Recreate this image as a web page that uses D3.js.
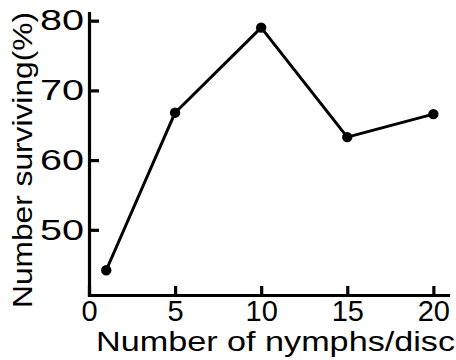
<!DOCTYPE html>
<html>
<head>
<meta charset="utf-8">
<script src="https://cdn.jsdelivr.net/npm/d3@7"></script>
<style>
  html, body { margin: 0; padding: 0; background: #fff; }
  svg { display: block; }
  text { font-family: "Liberation Sans", Arial, sans-serif; fill: #000; }
</style>
</head>
<body>
<svg id="chart" width="456" height="360"></svg>
<script>
// Survival of nymphs against rearing density
const nymphsPerDisc = [1, 5, 10, 15, 20];
const survivingPct = [44.2, 66.8, 79, 63.3, 66.6];
const xTicks = [0, 5, 10, 15, 20];
const yTicks = [50, 60, 70, 80];
const xTitle = "Number of nymphs/disc";
const yTitle = "Number surviving(%)";

const svg = d3.select("#chart");

const x = d3.scaleLinear().domain([0, 20.85]).range([89, 448]);
const y = d3.scaleLinear().domain([40.65, 81.1]).range([295, 13]);

const axisStroke = 3.2;

// x axis: ticks point up into the plot
const gx = svg.append("g")
  .attr("transform", `translate(0,${y.range()[0]})`)
  .call(d3.axisBottom(x).tickValues(xTicks).tickFormat(d3.format("d"))
    .tickSizeInner(-9).tickSizeOuter(0).tickPadding(5));

// y axis: ticks point right into the plot
const gy = svg.append("g")
  .attr("transform", `translate(${x.range()[0]},0)`)
  .call(d3.axisLeft(y).tickValues(yTicks).tickFormat(d3.format("d"))
    .tickSizeInner(-10).tickSizeOuter(0).tickPadding(5));

[gx, gy].forEach(g => {
  g.select(".domain").attr("stroke", "#000").attr("stroke-width", axisStroke)
    .attr("stroke-linecap", "square");
  g.selectAll(".tick line").attr("stroke", "#000").attr("stroke-width", axisStroke);
  g.selectAll(".tick text").attr("font-size", 29).attr("fill", "#000")
    .attr("font-family", "Liberation Sans, Arial, sans-serif");
});

// wider numerals on the vertical axis
gy.selectAll(".tick text")
  .attr("textLength", 44)
  .attr("lengthAdjust", "spacingAndGlyphs");

// connecting line
const pts = nymphsPerDisc.map((d, i) => [d, survivingPct[i]]);
svg.append("path")
  .datum(pts)
  .attr("fill", "none")
  .attr("stroke", "#000")
  .attr("stroke-width", 3)
  .attr("stroke-linejoin", "round")
  .attr("d", d3.line().x(d => x(d[0])).y(d => y(d[1])));

// markers
svg.selectAll("circle.pt")
  .data(pts)
  .join("circle")
  .attr("class", "pt")
  .attr("cx", d => x(d[0]))
  .attr("cy", d => y(d[1]))
  .attr("r", 5.2)
  .attr("fill", "#000");

// axis titles
svg.append("text")
  .attr("x", 96)
  .attr("y", 351)
  .attr("font-size", 28)
  .attr("textLength", 359)
  .attr("lengthAdjust", "spacingAndGlyphs")
  .text(xTitle);

svg.append("text")
  .attr("transform", "translate(32,308) rotate(-90)")
  .attr("font-size", 28)
  .attr("textLength", 296)
  .attr("lengthAdjust", "spacingAndGlyphs")
  .text(yTitle);
</script>
</body>
</html>
